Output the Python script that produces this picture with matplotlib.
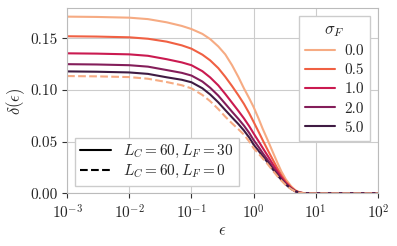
import matplotlib
matplotlib.use("Agg")
import matplotlib.pyplot as plt
import seaborn as sns
from matplotlib.lines import Line2D

# eps sample points (log axis)
eps = [1e-3, 3e-3, 1e-2, 2e-2, 4e-2, 0.07, 0.1, 0.15, 0.2, 0.27, 0.35, 0.45, 0.57, 0.7, 0.85,
       1.0, 1.2, 1.4, 1.7, 2.0, 2.4, 2.8, 3.3, 4.0, 4.7, 5.5, 6.5, 8.0, 100.0]

sigma_labels = ["0.0", "0.5", "1.0", "2.0", "5.0"]

# L_C = 60, L_F = 30, one curve per sigma_F
delta_s0 = [0.171, 0.1707, 0.1700, 0.1686, 0.1655, 0.1620, 0.1590, 0.1543, 0.1493, 0.1422,
            0.1345, 0.1240, 0.1125, 0.1015, 0.0920, 0.0835, 0.0725, 0.0625, 0.0510, 0.0410,
            0.0300, 0.0212, 0.0135, 0.0070, 0.0030, 0.0010, 0.0002, 0.0, 0.0]
delta_s05 = [0.152, 0.1517, 0.1510, 0.1496, 0.1468, 0.1432, 0.1400, 0.1342, 0.1287, 0.1212,
             0.1128, 0.1038, 0.0948, 0.0865, 0.0775, 0.0692, 0.0597, 0.0515, 0.0415, 0.0335,
             0.0245, 0.0175, 0.0112, 0.0058, 0.0025, 0.0008, 0.0002, 0.0, 0.0]
delta_s1 = [0.1355, 0.1352, 0.1345, 0.1331, 0.1298, 0.1267, 0.1240, 0.1182, 0.1122, 0.1045,
            0.0962, 0.0877, 0.0797, 0.0725, 0.0650, 0.0580, 0.0505, 0.0440, 0.0360, 0.0290,
            0.0215, 0.0155, 0.0100, 0.0052, 0.0022, 0.0007, 0.0001, 0.0, 0.0]
delta_s2 = [0.125, 0.1247, 0.1240, 0.1226, 0.1193, 0.1166, 0.1140, 0.1082, 0.1022, 0.0946,
            0.0867, 0.0790, 0.0720, 0.0655, 0.0585, 0.0516, 0.0450, 0.0390, 0.0320, 0.0258,
            0.0192, 0.0140, 0.0090, 0.0047, 0.0020, 0.0006, 0.0001, 0.0, 0.0]
delta_s5 = [0.118, 0.1177, 0.1170, 0.1156, 0.1123, 0.1099, 0.1075, 0.1017, 0.0957, 0.0881,
            0.0806, 0.0735, 0.0670, 0.0608, 0.0540, 0.0472, 0.0412, 0.0360, 0.0295, 0.0238,
            0.0178, 0.0130, 0.0085, 0.0044, 0.0019, 0.0006, 0.0001, 0.0, 0.0]

# L_C = 60, L_F = 0
delta_lf0 = [0.1135, 0.1132, 0.1125, 0.1109, 0.1077, 0.1046, 0.1016, 0.0952, 0.0892, 0.0816,
             0.0742, 0.0677, 0.0620, 0.0568, 0.0502, 0.0437, 0.0385, 0.0338, 0.0280, 0.0225,
             0.0168, 0.0123, 0.0080, 0.0042, 0.0018, 0.0005, 0.0001, 0.0, 0.0]

sns.set_style("whitegrid", {"xtick.bottom": True, "ytick.left": True})
plt.rcParams["font.family"] = ["cmr10", "DejaVu Serif"]
plt.rcParams["mathtext.fontset"] = "cm"
plt.rcParams["axes.formatter.use_mathtext"] = True
plt.rcParams["font.size"] = 11

colors = sns.color_palette("rocket_r", 5)

fig = plt.figure(figsize=(3.97, 2.46), dpi=100)
ax = fig.add_axes([0.169, 0.214, 0.783, 0.752])

all_curves = [delta_s0, delta_s05, delta_s1, delta_s2, delta_s5]
handles = []
for d, c, lab in zip(all_curves, colors, sigma_labels):
    h, = ax.plot(eps, d, color=c, lw=1.5, label=lab)
    handles.append(h)
ax.plot(eps, delta_lf0, color=colors[0], lw=1.5, ls="--")

ax.set_xscale("log")
ax.set_xlim(1e-3, 1e2)
ax.set_ylim(0, 0.179)
ax.set_yticks([0.0, 0.05, 0.10, 0.15])
ax.set_yticklabels(["0.00", "0.05", "0.10", "0.15"])
ax.minorticks_off()
ax.tick_params(axis="both", length=3.5, width=0.8, color="#333333", labelsize=11)
for s in ax.spines.values():
    s.set_color("#bbbbbb")
ax.set_xlabel(r"$\epsilon$", fontsize=12, labelpad=1)
ax.set_ylabel(r"$\delta(\epsilon)$", fontsize=12, labelpad=2)

leg1 = ax.legend(handles=handles, title=r"$\sigma_F$", loc="upper right",
                 fontsize=11, title_fontsize=12, fancybox=False, framealpha=1,
                 edgecolor="#cccccc", borderpad=0.4, labelspacing=0.35,
                 handlelength=2.0, handletextpad=0.6)
ax.add_artist(leg1)
style_handles = [Line2D([], [], color="black", lw=1.5, ls="-"),
                 Line2D([], [], color="black", lw=1.5, ls="--")]
ax.legend(handles=style_handles,
          labels=[r"$L_C=60, L_F=30$", r"$L_C=60, L_F=0$"],
          loc="lower left", fontsize=11, fancybox=False, framealpha=1,
          edgecolor="#cccccc", borderpad=0.35, labelspacing=0.2,
          handlelength=2.0)

fig.savefig("out.png", dpi=100)
